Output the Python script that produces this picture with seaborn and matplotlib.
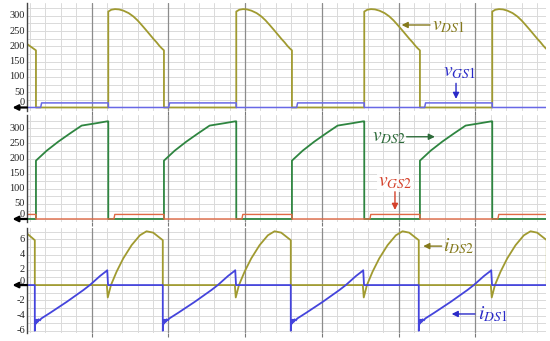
import numpy as np
import pandas as pd
import matplotlib
matplotlib.use("Agg")
import matplotlib.pyplot as plt
import matplotlib.transforms as mtransforms
from matplotlib.ticker import MultipleLocator
import seaborn as sns

# ---------------- data (time in µs) ----------------
# Panel 1: v_DS1 (V) and v_GS1 (V)
t_vds1 = [0.96, 1.66, 1.66,
          7.31, 7.31, 7.55, 7.84, 8.15, 8.49, 8.90, 9.27, 9.60, 9.92, 10.25, 10.57, 10.85, 11.09, 11.30, 11.48, 11.66, 11.66,
          17.31, 17.31, 17.55, 17.84, 18.15, 18.49, 18.90, 19.27, 19.60, 19.92, 20.25, 20.57, 20.85, 21.09, 21.30, 21.48, 21.66, 21.66,
          27.31, 27.31, 27.55, 27.84, 28.15, 28.49, 28.90, 29.27, 29.60, 29.92, 30.25, 30.57, 30.85, 31.09, 31.30, 31.48, 31.66, 31.66,
          37.31, 37.31, 37.55, 37.84, 38.15, 38.49, 38.90, 39.27, 39.60, 39.92, 40.25, 40.57, 40.85, 41.09, 41.30, 41.48, 41.66, 41.66]
v_ds1 = [208, 187, 0,
         0, 314, 320, 322, 321, 317, 309, 298, 285, 270, 254, 238, 224, 213, 202, 194, 187, 0,
         0, 314, 320, 322, 321, 317, 309, 298, 285, 270, 254, 238, 224, 213, 202, 194, 187, 0,
         0, 314, 320, 322, 321, 317, 309, 298, 285, 270, 254, 238, 224, 213, 202, 194, 187, 0,
         0, 314, 320, 322, 321, 317, 309, 298, 285, 270, 254, 238, 224, 213, 202, 194, 187, 0]

t_vgs1 = [0.96, 2.03, 2.10, 7.31, 7.31, 12.03, 12.10, 17.31, 17.31, 22.03, 22.10,
          27.31, 27.31, 32.03, 32.10, 37.31, 37.31, 41.66]
v_gs1 = [0, 0, 15, 15, 0, 0, 15, 15, 0, 0, 15, 15, 0, 0, 15, 15, 0, 0]

# Panel 2: v_DS2 (V) and v_GS2 (V)
t_vds2 = [0.96,
          1.66, 1.66, 2.50, 3.41, 4.32, 5.23, 6.40, 7.23, 7.31, 7.31,
          11.66, 11.66, 12.50, 13.41, 14.32, 15.23, 16.40, 17.23, 17.31, 17.31,
          21.66, 21.66, 22.50, 23.41, 24.32, 25.23, 26.40, 27.23, 27.31, 27.31,
          31.66, 31.66, 32.50, 33.41, 34.32, 35.23, 36.40, 37.23, 37.31, 37.31,
          41.66]
v_ds2 = [0,
         0, 193, 226, 256, 283, 309, 317, 323, 323, 0,
         0, 193, 226, 256, 283, 309, 317, 323, 323, 0,
         0, 193, 226, 256, 283, 309, 317, 323, 323, 0,
         0, 193, 226, 256, 283, 309, 317, 323, 323, 0,
         0]

t_vgs2 = [0.96, 1.66, 1.66, 7.75, 7.82, 11.66, 11.66, 17.75, 17.82, 21.66, 21.66,
          27.75, 27.82, 31.66, 31.66, 37.75, 37.82, 41.66]
v_gs2 = [15, 15, 0, 0, 15, 15, 0, 0, 15, 15, 0, 0, 15, 15, 0, 0, 15, 15]

# Panel 3: i_DS1 (A) and i_DS2 (A)
t_ids1 = [0.96,
          1.57, 1.57, 1.62, 1.67, 1.73, 1.79, 1.87, 1.97, 2.07, 2.77, 4.07, 5.37, 5.87, 6.67, 7.17, 7.23, 7.29,
          11.57, 11.57, 11.62, 11.67, 11.73, 11.79, 11.87, 11.97, 12.07, 12.77, 14.07, 15.37, 15.87, 16.67, 17.17, 17.23, 17.29,
          21.57, 21.57, 21.62, 21.67, 21.73, 21.79, 21.87, 21.97, 22.07, 22.77, 24.07, 25.37, 25.87, 26.67, 27.17, 27.23, 27.29,
          31.57, 31.57, 31.62, 31.67, 31.73, 31.79, 31.87, 31.97, 32.07, 32.77, 34.07, 35.37, 35.87, 36.67, 37.17, 37.23, 37.29,
          41.66]
i_ds1 = [0,
         0, -6.0, -4.6, -5.05, -4.55, -4.85, -4.5, -4.65, -4.4, -3.65, -2.2, -0.65, 0, 1.2, 1.85, 1.95, 0,
         0, -6.0, -4.6, -5.05, -4.55, -4.85, -4.5, -4.65, -4.4, -3.65, -2.2, -0.65, 0, 1.2, 1.85, 1.95, 0,
         0, -6.0, -4.6, -5.05, -4.55, -4.85, -4.5, -4.65, -4.4, -3.65, -2.2, -0.65, 0, 1.2, 1.85, 1.95, 0,
         0, -6.0, -4.6, -5.05, -4.55, -4.85, -4.5, -4.65, -4.4, -3.65, -2.2, -0.65, 0, 1.2, 1.85, 1.95, 0,
         0]

t_ids2 = [0.96, 1.57, 1.57,
          7.20, 7.27, 7.52, 7.96, 8.48, 9.13, 9.78, 10.30, 10.82, 11.34, 11.57, 11.57,
          17.20, 17.27, 17.52, 17.96, 18.48, 19.13, 19.78, 20.30, 20.82, 21.34, 21.57, 21.57,
          27.20, 27.27, 27.52, 27.96, 28.48, 29.13, 29.78, 30.30, 30.82, 31.34, 31.57, 31.57,
          37.20, 37.27, 37.52, 37.96, 38.48, 39.13, 39.78, 40.30, 40.82, 41.34, 41.57, 41.57]
i_ds2 = [6.78, 5.9, 0,
         0, -1.63, 0, 1.76, 3.5, 5.24, 6.54, 7.07, 6.89, 6.2, 5.9, 0,
         0, -1.63, 0, 1.76, 3.5, 5.24, 6.54, 7.07, 6.89, 6.2, 5.9, 0,
         0, -1.63, 0, 1.76, 3.5, 5.24, 6.54, 7.07, 6.89, 6.2, 5.9, 0,
         0, -1.63, 0, 1.76, 3.5, 5.24, 6.54, 7.07, 6.89, 6.2, 5.9, 0]

v_ticks = [0, 50, 100, 150, 200, 250, 300]
i_ticks = [-6, -4, -2, 0, 2, 4, 6]

# ---------------- styling ----------------
sns.set_theme(style="white")
plt.rcParams['font.family'] = ['Liberation Serif', 'DejaVu Serif']
plt.rcParams['mathtext.fontset'] = 'stix'
plt.rcParams['grid.linestyle'] = '-'

OLIVE = '#a09a30'
OLIVE_T = '#857a1c'
BLUE = '#4444dc'
BLUE_L = '#6868e6'
BLUE_T = '#2a2ac8'
GREEN = '#2e8540'
GREEN_T = '#2d6b3a'
RED = '#e06a45'
RED_T = '#d4402a'

fig = plt.figure(figsize=(5.5, 3.41), dpi=100)
L, W = 27 / 550, 519 / 550
ax1 = fig.add_axes([L, 1 - 111 / 341, W, 108 / 341])
ax2 = fig.add_axes([L, 1 - 222 / 341, W, 107 / 341])
ax3 = fig.add_axes([L, 1 - 333 / 341, W, 105 / 341])

XLIM = (0.96, 41.51)


def style_axes(ax, ylim, ymaj, ymin, ticks, zero_raise):
    ax.set_xlim(*XLIM)
    ax.set_ylim(*ylim)
    ax.xaxis.set_major_locator(MultipleLocator(6))
    ax.xaxis.set_minor_locator(MultipleLocator(1.2))
    ax.yaxis.set_major_locator(MultipleLocator(ymaj))
    ax.yaxis.set_minor_locator(MultipleLocator(ymin))
    ax.grid(True, which='both', axis='y', color='#dadada', lw=0.7, linestyle='-')
    ax.grid(True, which='minor', axis='x', color='#dadada', lw=0.7, linestyle='-')
    ax.grid(True, which='major', axis='x', color='#8c8c8c', lw=0.9, linestyle='-')
    ax.set_axisbelow(True)
    # draw vertical grid above horizontal grid so dark lines stay solid
    ax.yaxis.set_zorder(0.4)
    ax.xaxis.set_zorder(0.5)
    ax.tick_params(axis='y', which='both', length=0, labelleft=False)
    ax.tick_params(axis='x', which='major', length=3, width=0.8, color='#777777',
                   bottom=True, labelbottom=False, direction='out')
    ax.tick_params(axis='x', which='minor', length=0)
    for s in ['top', 'right', 'bottom']:
        ax.spines[s].set_visible(False)
    ax.spines['left'].set_color('#444444')
    ax.spines['left'].set_linewidth(1.0)
    ax.set_xlabel('')
    ax.set_ylabel('')
    base = ax.get_yaxis_transform()
    for v in ticks:
        dy = zero_raise if v == 0 else 0
        tr = base + mtransforms.ScaledTranslation(-2 / 100, dy / 100, fig.dpi_scale_trans)
        ax.text(0, v, str(v), transform=tr, ha='right', va='center', fontsize=7.5,
                color='#222222')
    # ground marker
    ax.annotate('', xy=(-0.028, 0), xycoords=base, xytext=(0.0, 0), textcoords=base,
                arrowprops=dict(arrowstyle='-|>', color='black', lw=1.6,
                                mutation_scale=8, shrinkA=0, shrinkB=0),
                annotation_clip=False)


def trace(ax, t, y, color, lw):
    sns.lineplot(x=t, y=y, ax=ax, color=color, lw=lw, estimator=None, sort=False,
                 legend=False)


# Panel 1
trace(ax1, t_vds1, v_ds1, OLIVE, 1.3)
trace(ax1, t_vgs1, v_gs1, BLUE_L, 1.1)
style_axes(ax1, (-11.5, 342), 50, 25, v_ticks, 4.5)

# Panel 2
trace(ax2, t_vds2, v_ds2, GREEN, 1.3)
trace(ax2, t_vgs2, v_gs2, RED, 1.0)
style_axes(ax2, (-10, 344), 50, 25, v_ticks, 4.5)

# Panel 3
trace(ax3, t_ids2, i_ds2, OLIVE, 1.3)
trace(ax3, t_ids1, i_ds1, BLUE, 1.3)
style_axes(ax3, (-6.3, 7.5), 2, 1, i_ticks, 4.0)


def arrow(ax, x0, y0, x1, y1, color):
    ax.annotate('', xy=(x1, y1), xytext=(x0, y0),
                arrowprops=dict(arrowstyle='-|>', color=color, lw=1.0,
                                mutation_scale=9, shrinkA=0, shrinkB=0))


# Annotations
ax1.text(32.58, 254, r'$v_{\mathit{DS1}}$', color=OLIVE_T, fontsize=14, ha='left', va='baseline')
arrow(ax1, 32.45, 270, 30.23, 270, OLIVE_T)
ax1.text(33.49, 103, r'$v_{\mathit{GS1}}$', color=BLUE_T, fontsize=14, ha='left', va='baseline')
arrow(ax1, 34.48, 79, 34.48, 28, BLUE_T)

ax2.text(27.89, 256, r'$v_{\mathit{DS2}}$', color=GREEN_T, fontsize=14, ha='left', va='baseline')
arrow(ax2, 30.62, 272, 32.83, 272, GREEN_T)
ax2.text(28.4, 107, r'$v_{\mathit{GS2}}$', color=RED_T, fontsize=14, ha='left', va='baseline',
         bbox=dict(facecolor='white', edgecolor='none', pad=0.5, alpha=0.85))
arrow(ax2, 29.71, 90, 29.71, 30, RED_T)

ax3.text(33.48, 4.38, r'$i_{\mathit{DS2}}$', color=OLIVE_T, fontsize=14, ha='left', va='baseline')
arrow(ax3, 33.36, 5.12, 31.92, 5.12, OLIVE_T)
ax3.text(36.22, -4.55, r'$i_{\mathit{DS1}}$', color=BLUE_T, fontsize=14, ha='left', va='baseline')
arrow(ax3, 35.96, -3.8, 34.14, -3.8, BLUE_T)

fig.savefig('out.png', dpi=100)
